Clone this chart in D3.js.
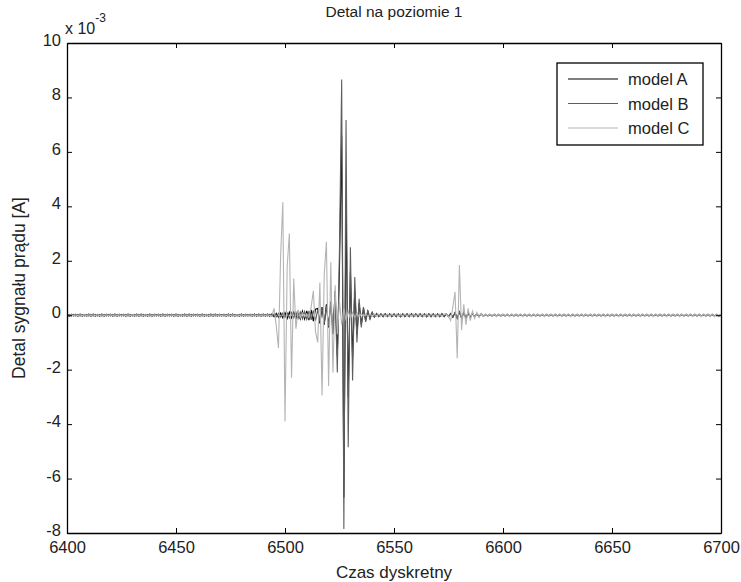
<!DOCTYPE html>
<html>
<head>
<meta charset="utf-8">
<script src="https://cdn.jsdelivr.net/npm/d3@7"></script>
<style>
    body { margin: 0; background: #fff; }
    svg text { font-family: "Liberation Sans", Arial, sans-serif; fill: #222; }
</style>
</head>
<body>
<svg id="chart" width="741" height="582"></svg>
<script>
"use strict";

// oś X: czas dyskretny, próbki od 6400 do 6700
const timeStart = 6400;
const timeEnd = 6700;
const xTicks = [6400, 6450, 6500, 6550, 6600, 6650, 6700];
const yTicks = [-8, -6, -4, -2, 0, 2, 4, 6, 8, 10];

const seriesNames = ["model A", "model B", "model C"];

// wartości w jednostkach 1e-3 A, kolejne wiersze po 10 próbek
const modelA = [
    0.04,-0.04,0.04,-0.03,0.04,-0.04,0.04,-0.04,0.03,-0.04,   // 6400
    0.04,-0.04,0.04,-0.04,0.03,-0.04,0.04,-0.04,0.04,-0.03,   // 6410
    0.04,-0.04,0.04,-0.04,0.04,-0.03,0.04,-0.04,0.04,-0.04,   // 6420
    0.03,-0.04,0.04,-0.04,0.04,-0.04,0.03,-0.04,0.04,-0.04,   // 6430
    0.04,-0.03,0.04,-0.04,0.04,-0.04,0.04,-0.03,0.04,-0.04,   // 6440
    0.04,-0.04,0.03,-0.04,0.04,-0.04,0.04,-0.04,0.04,-0.03,   // 6450
    0.04,-0.04,0.04,-0.04,0.03,-0.04,0.04,-0.04,0.04,-0.04,   // 6460
    0.04,-0.03,0.04,-0.04,0.04,-0.04,0.04,-0.04,0.03,-0.04,   // 6470
    0.04,-0.04,0.04,-0.03,0.04,-0.04,0.04,-0.04,0.04,-0.04,   // 6480
    0.04,-0.04,0.04,-0.04,0.05,-0.06,0.07,-0.08,0.08,-0.10,   // 6490
    0.10,-0.12,0.11,-0.10,0.12,-0.13,0.12,-0.14,0.15,-0.14,   // 6500
    0.16,-0.18,0.20,-0.22,0.22,0.25,-0.30,0.30,-0.35,0.40,    // 6510
    -0.45,0.50,-0.70,0.90,-1.50,1.80,6.60,-6.70,4.16,-3.00,   // 6520
    1.60,-1.60,0.90,-0.70,0.45,-0.35,0.25,-0.20,0.15,-0.12,   // 6530
    0.10,-0.07,0.06,-0.05,0.05,-0.05,0.06,-0.05,0.05,-0.05,   // 6540
    0.05,-0.05,0.05,-0.06,0.05,-0.05,0.05,-0.05,0.06,-0.05,   // 6550
    0.05,-0.05,0.05,-0.05,0.05,-0.06,0.05,-0.05,0.05,-0.05,   // 6560
    0.05,-0.05,0.06,-0.05,0.05,-0.05,0.06,-0.08,0.10,-0.12,   // 6570
    0.12,-0.10,0.10,-0.10,0.08,-0.08,0.07,-0.06,0.06,-0.05,   // 6580
    0.05,-0.04,0.03,-0.03,0.03,-0.03,0.03,-0.03,0.03,-0.03,   // 6590
    0.03,-0.03,0.03,-0.03,0.03,-0.03,0.03,-0.03,0.03,-0.03,   // 6600
    0.03,-0.03,0.03,-0.03,0.03,-0.03,0.03,-0.03,0.03,-0.03,   // 6610
    0.03,-0.03,0.03,-0.03,0.03,-0.03,0.03,-0.03,0.03,-0.03,   // 6620
    0.03,-0.03,0.03,-0.03,0.03,-0.03,0.03,-0.03,0.03,-0.03,   // 6630
    0.03,-0.03,0.03,-0.03,0.03,-0.03,0.03,-0.03,0.03,-0.03,   // 6640
    0.03,-0.03,0.03,-0.03,0.03,-0.03,0.03,-0.03,0.03,-0.03,   // 6650
    0.03,-0.03,0.03,-0.03,0.03,-0.03,0.03,-0.03,0.03,-0.03,   // 6660
    0.03,-0.03,0.03,-0.03,0.03,-0.03,0.03,-0.03,0.03,-0.03,   // 6670
    0.03,-0.03,0.03,-0.03,0.03,-0.03,0.03,-0.03,0.03,-0.03,   // 6680
    0.03,-0.03,0.03,-0.03,0.03,-0.03,0.03,-0.03,0.03,-0.03,   // 6690
    0.03                                                      // 6700
];

const modelB = [
    -0.03,0.03,-0.03,0.03,-0.03,0.03,-0.03,0.03,-0.03,0.03,   // 6400
    -0.03,0.03,-0.03,0.03,-0.03,0.03,-0.03,0.03,-0.03,0.03,   // 6410
    -0.03,0.03,-0.03,0.03,-0.03,0.03,-0.03,0.03,-0.03,0.03,   // 6420
    -0.03,0.03,-0.03,0.03,-0.03,0.03,-0.03,0.03,-0.03,0.03,   // 6430
    -0.03,0.03,-0.03,0.03,-0.03,0.03,-0.03,0.03,-0.03,0.03,   // 6440
    -0.03,0.03,-0.03,0.03,-0.03,0.03,-0.03,0.03,-0.03,0.03,   // 6450
    -0.03,0.03,-0.03,0.03,-0.03,0.03,-0.03,0.03,-0.03,0.03,   // 6460
    -0.03,0.03,-0.03,0.03,-0.03,0.03,-0.03,0.03,-0.03,0.03,   // 6470
    -0.03,0.03,-0.03,0.03,-0.03,0.03,-0.03,0.03,-0.03,0.03,   // 6480
    -0.03,0.03,-0.03,0.04,-0.04,0.05,-0.06,0.07,-0.07,0.08,   // 6490
    -0.08,0.09,-0.10,0.10,-0.10,0.11,-0.12,0.12,-0.13,0.14,   // 6500
    -0.15,0.16,-0.17,0.18,-0.20,0.20,-0.25,0.30,-0.30,0.35,   // 6510
    -0.40,0.45,-0.60,0.80,-2.10,2.50,8.66,-7.85,7.17,-4.85,   // 6520
    2.50,-2.40,1.40,-1.00,0.60,-0.45,0.30,-0.25,0.18,-0.14,   // 6530
    0.10,-0.06,0.05,-0.05,0.04,-0.05,0.05,-0.04,0.05,-0.05,   // 6540
    0.04,-0.05,0.05,-0.05,0.04,-0.05,0.05,-0.05,0.04,-0.05,   // 6550
    0.05,-0.04,0.05,-0.05,0.05,-0.04,0.05,-0.05,0.05,-0.05,   // 6560
    0.05,-0.05,0.04,-0.05,0.05,-0.05,0.05,-0.07,0.09,-0.10,   // 6570
    0.11,-0.10,0.09,-0.09,0.08,-0.07,0.06,-0.06,0.05,-0.05,   // 6580
    0.04,-0.03,0.02,-0.02,0.02,-0.02,0.02,-0.02,0.02,-0.02,   // 6590
    0.02,-0.02,0.02,-0.02,0.02,-0.02,0.02,-0.02,0.02,-0.02,   // 6600
    0.02,-0.02,0.02,-0.02,0.02,-0.02,0.02,-0.02,0.02,-0.02,   // 6610
    0.02,-0.02,0.02,-0.02,0.02,-0.02,0.02,-0.02,0.02,-0.02,   // 6620
    0.02,-0.02,0.02,-0.02,0.02,-0.02,0.02,-0.02,0.02,-0.02,   // 6630
    0.02,-0.02,0.02,-0.02,0.02,-0.02,0.02,-0.02,0.02,-0.02,   // 6640
    0.02,-0.02,0.02,-0.02,0.02,-0.02,0.02,-0.02,0.02,-0.02,   // 6650
    0.02,-0.02,0.02,-0.02,0.02,-0.02,0.02,-0.02,0.02,-0.02,   // 6660
    0.02,-0.02,0.02,-0.02,0.02,-0.02,0.02,-0.02,0.02,-0.02,   // 6670
    0.02,-0.02,0.02,-0.02,0.02,-0.02,0.02,-0.02,0.02,-0.02,   // 6680
    0.02,-0.02,0.02,-0.02,0.02,-0.02,0.02,-0.02,0.02,-0.02,   // 6690
    0.02                                                      // 6700
];

const modelC = [
    0.02,-0.02,0.02,-0.02,0.02,-0.02,0.02,-0.02,0.02,-0.02,   // 6400
    0.02,-0.02,0.02,-0.02,0.02,-0.02,0.02,-0.02,0.02,-0.02,   // 6410
    0.02,-0.02,0.02,-0.02,0.02,-0.02,0.02,-0.02,0.02,-0.02,   // 6420
    0.02,-0.02,0.02,-0.02,0.02,-0.02,0.02,-0.02,0.02,-0.02,   // 6430
    0.02,-0.02,0.02,-0.02,0.02,-0.02,0.02,-0.02,0.02,-0.02,   // 6440
    0.02,-0.02,0.02,-0.02,0.02,-0.02,0.02,-0.02,0.02,-0.02,   // 6450
    0.02,-0.02,0.02,-0.02,0.02,-0.02,0.02,-0.02,0.02,-0.02,   // 6460
    0.02,-0.02,0.02,-0.02,0.02,-0.02,0.02,-0.02,0.02,-0.02,   // 6470
    0.02,-0.02,0.02,-0.02,0.02,-0.02,0.02,-0.02,0.02,-0.02,   // 6480
    0.02,-0.02,0.02,-0.02,0.00,0.25,-0.40,-1.20,2.20,4.15,    // 6490
    -3.90,1.80,3.00,-2.30,1.35,-0.50,0.20,-0.10,0.08,-0.06,   // 6500
    0.05,-0.10,0.30,0.90,-0.60,-1.00,1.20,-2.95,1.50,2.70,    // 6510
    -2.60,1.95,-2.10,1.10,-0.70,0.50,-0.35,0.25,-0.20,0.15,   // 6520
    -0.12,0.10,-0.08,0.06,-0.05,0.05,-0.04,0.04,-0.04,0.04,   // 6530
    -0.04,0.04,-0.04,0.04,-0.04,0.04,-0.04,0.04,-0.04,0.04,   // 6540
    -0.04,0.04,-0.04,0.04,-0.04,0.04,-0.04,0.04,-0.04,0.04,   // 6550
    -0.04,0.04,-0.04,0.04,-0.04,0.04,-0.04,0.04,-0.04,0.04,   // 6560
    -0.04,0.04,-0.04,0.04,0.05,-0.05,-0.20,0.30,0.86,-1.58,   // 6570
    1.84,-0.55,0.40,-0.35,0.25,-0.20,0.15,-0.12,0.10,-0.08,   // 6580
    0.06,-0.05,0.05,-0.05,0.05,-0.05,0.05,-0.05,0.05,-0.05,   // 6590
    0.05,-0.05,0.05,-0.05,0.05,-0.05,0.05,-0.05,0.05,-0.05,   // 6600
    0.05,-0.05,0.05,-0.05,0.05,-0.05,0.05,-0.05,0.05,-0.05,   // 6610
    0.05,-0.05,0.05,-0.05,0.05,-0.05,0.05,-0.05,0.05,-0.05,   // 6620
    0.05,-0.05,0.05,-0.05,0.05,-0.05,0.05,-0.05,0.05,-0.05,   // 6630
    0.05,-0.05,0.05,-0.05,0.05,-0.05,0.05,-0.05,0.05,-0.05,   // 6640
    0.05,-0.05,0.05,-0.05,0.05,-0.05,0.05,-0.05,0.05,-0.05,   // 6650
    0.05,-0.05,0.05,-0.05,0.05,-0.05,0.05,-0.05,0.05,-0.05,   // 6660
    0.05,-0.05,0.05,-0.05,0.05,-0.05,0.05,-0.05,0.05,-0.05,   // 6670
    0.05,-0.05,0.05,-0.05,0.05,-0.05,0.05,-0.05,0.05,-0.05,   // 6680
    0.05,-0.05,0.05,-0.05,0.05,-0.05,0.05,-0.05,0.05,-0.05,   // 6690
    0.05                                                      // 6700
];

const seriesColors = ["#000000", "#5e5e5e", "#b4b4b4"];

let chartSetts = {
    left: 67, right: 721, top: 43, bottom: 533,
    tick: 5,
    font: 16.5,
};

let svg = d3.select("#chart");

let x = d3.scaleLinear().domain([timeStart, timeEnd]).range([chartSetts.left, chartSetts.right]);
let y = d3.scaleLinear().domain([-8, 10]).range([chartSetts.bottom, chartSetts.top]);

// podpisy bez separatora tysięcy i ze zwykłym minusem
const plainFormat = (d) => String(d);

// przycięcie do obszaru wykresu
svg.append("defs").append("clipPath").attr("id", "plot-clip")
    .append("rect")
    .attr("x", chartSetts.left).attr("y", chartSetts.top)
    .attr("width", chartSetts.right - chartSetts.left)
    .attr("height", chartSetts.bottom - chartSetts.top);

// serie: A pod spodem, C na wierzchu
let line = d3.line()
    .x((d, i) => x(timeStart + i))
    .y((d) => y(d));

let plot = svg.append("g").attr("clip-path", "url(#plot-clip)");
[modelA, modelB, modelC].forEach((values, k) => {
    plot.append("path")
        .datum(values)
        .attr("d", line)
        .attr("fill", "none")
        .attr("stroke", seriesColors[k])
        .attr("stroke-width", 1.1);
});

// osie z kreskami do środka, jak w MATLAB-ie
function styleAxis(g) {
    g.select(".domain").attr("stroke", "#000").attr("stroke-width", 1.3);
    g.selectAll(".tick line").attr("stroke", "#000");
    g.selectAll(".tick text")
        .attr("fill", "#222")
        .style("font-size", chartSetts.font + "px")
        .style("font-family", "'Liberation Sans', Arial, sans-serif");
}

svg.append("g")
    .attr("transform", `translate(0,${chartSetts.bottom})`)
    .call(d3.axisBottom(x).tickValues(xTicks).tickFormat(plainFormat)
        .tickSizeInner(-chartSetts.tick).tickSizeOuter(0).tickPadding(8))
    .call(styleAxis);
svg.append("g")
    .attr("transform", `translate(0,${chartSetts.top})`)
    .call(d3.axisTop(x).tickValues(xTicks).tickSizeInner(-chartSetts.tick).tickSizeOuter(0).tickFormat(""))
    .call(styleAxis);
let yAxisG = svg.append("g")
    .attr("transform", `translate(${chartSetts.left},0)`)
    .call(d3.axisLeft(y).tickValues(yTicks).tickFormat(plainFormat)
        .tickSizeInner(-chartSetts.tick).tickSizeOuter(0).tickPadding(6))
    .call(styleAxis);
// podpisy osi Y lekko w górę (jak w oryginale -8 nie wchodzi na 6400)
yAxisG.selectAll(".tick text").attr("dy", "0.15em");
svg.append("g")
    .attr("transform", `translate(${chartSetts.right},0)`)
    .call(d3.axisRight(y).tickValues(yTicks).tickSizeInner(-chartSetts.tick).tickSizeOuter(0).tickFormat(""))
    .call(styleAxis);

// mnożnik skali osi Y
let mult = svg.append("text")
    .attr("x", 65).attr("y", 34)
    .style("font-size", "16px")
    .text("x 10");
mult.append("tspan")
    .attr("dy", -12)
    .style("font-size", "12px")
    .text("-3");

// tytuł i opisy osi
svg.append("text")
    .attr("x", (chartSetts.left + chartSetts.right) / 2).attr("y", 17)
    .attr("text-anchor", "middle")
    .style("font-size", "15.5px")
    .text("Detal na poziomie 1");

svg.append("text")
    .attr("x", (chartSetts.left + chartSetts.right) / 2).attr("y", 578)
    .attr("text-anchor", "middle")
    .style("font-size", "17px")
    .text("Czas dyskretny");

svg.append("text")
    .attr("transform", `translate(25,${(chartSetts.top + chartSetts.bottom) / 2}) rotate(-90)`)
    .attr("text-anchor", "middle")
    .style("font-size", "17.5px")
    .text("Detal sygnału prądu [A]");

// legenda
let legend = svg.append("g").attr("transform", "translate(557,63)");
legend.append("rect")
    .attr("width", 146).attr("height", 82)
    .attr("fill", "#fff").attr("stroke", "#000").attr("stroke-width", 1.3);
seriesNames.forEach((name, k) => {
    let ly = 16 + k * 24.5;
    legend.append("line")
        .attr("x1", 11).attr("x2", 61)
        .attr("y1", ly).attr("y2", ly)
        .attr("stroke", seriesColors[k]).attr("stroke-width", 1.2);
    legend.append("text")
        .attr("x", 71).attr("y", ly + 6)
        .style("font-size", "16.5px")
        .text(name);
});
</script>
</body>
</html>
